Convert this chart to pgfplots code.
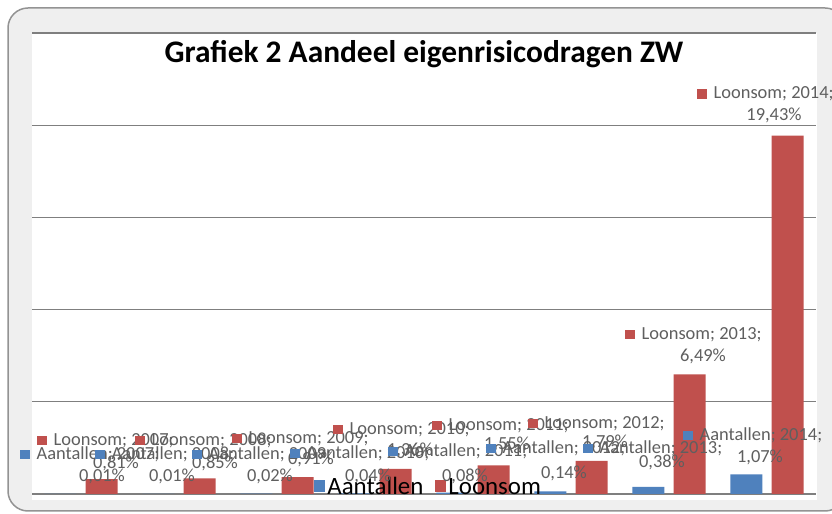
\documentclass[border=0pt]{standalone}
\usepackage{fontspec}
\setmainfont{Carlito}
\usepackage{pgfplots}
\pgfplotsset{compat=1.18}
\definecolor{xblue}{HTML}{4F81BD}
\definecolor{xred}{HTML}{C0504D}
\definecolor{lblgray}{HTML}{5F5F5F}
\definecolor{bggray}{HTML}{EFEFEF}
\definecolor{gridgray}{HTML}{7F7F7F}
\newcommand{\lblfont}{\fontsize{18.5}{22}\selectfont}
\newcommand{\lone}[4]{\node[anchor=base west,inner sep=0pt,text=lblgray,font=\lblfont] at ({#1*1bp},{(514-#2)*1bp}) {\textcolor{#3}{\rule{9.5bp}{9.5bp}}\hspace{7bp}#4};}
\newcommand{\ltwo}[3]{\node[anchor=base,inner sep=0pt,text=lblgray,font=\lblfont] at ({#1*1bp},{(514-#2)*1bp}) {#3};}
\begin{document}
\begin{tikzpicture}
\useasboundingbox (0,0) rectangle (832bp,514bp);
\clip (0,0) rectangle (832bp,514bp);
\fill[white] (0,0) rectangle (832bp,514bp);
\draw[draw=gray!85, line width=1.5bp, fill=bggray, rounded corners=20bp] (8bp,3bp) rectangle (845bp,506bp);
\fill[white] (32bp,14bp) rectangle (817bp,481bp);
\node[font=\fontsize{31.5}{36}\selectfont\bfseries, anchor=base, inner sep=0pt] at (424bp,{(514-63)*1bp}) {Grafiek 2 Aandeel eigenrisicodragen ZW};
\begin{axis}[
  at={(32bp,20bp)}, anchor=south west,
  scale only axis, width=784bp, height=461bp,
  xmin=-0.5, xmax=7.5, ymin=0, ymax=25,
  ybar, bar width=0.327,
  xtick=\empty, ytick={0,5,10,15,20,25}, yticklabels={},
  major tick length=0pt,
  ymajorgrids, grid style={draw=gridgray, line width=1.3bp},
  axis line style={draw=none},
  legend style={at={(0.506,0.015)}, anchor=center, draw=none, fill=none,
    legend columns=2, font=\fontsize{25}{29}\selectfont,
    /tikz/every even column/.append style={column sep=10bp}},
  legend image code/.code={\fill[#1] (0bp,-5bp) rectangle (11bp,7bp);},
]
\addplot[fill=xblue, draw=none, bar shift=-0.21] coordinates {(0,0.01) (1,0.01) (2,0.02) (3,0.04) (4,0.08) (5,0.14) (6,0.38) (7,1.07)};
\addplot[fill=xred, draw=none, bar shift=0.21] coordinates {(0,0.81) (1,0.85) (2,0.91) (3,1.36) (4,1.55) (5,1.79) (6,6.49) (7,19.43)};
\legend{Aantallen, Loonsom}
\end{axis}
% data labels Loonsom
\lone{37}{445}{xred}{Loonsom; 2007;}
\ltwo{116}{468}{0,81\%}
\lone{135}{445}{xred}{Loonsom; 2008;}
\ltwo{215}{468}{0,85\%}
\lone{232}{443}{xred}{Loonsom; 2009;}
\ltwo{311}{464}{0,91\%}
\lone{333}{434}{xred}{Loonsom; 2010;}
\ltwo{410}{455}{1,36\%}
\lone{432}{430}{xred}{Loonsom; 2011;}
\ltwo{507}{449}{1,55\%}
\lone{528}{428}{xred}{Loonsom; 2012;}
\ltwo{605}{447}{1,79\%}
\lone{625}{339}{xred}{Loonsom; 2013;}
\ltwo{703}{361}{6,49\%}
\lone{697}{99}{xred}{Loonsom; 2014;}
\ltwo{774}{121}{19,43\%}
% data labels Aantallen
\lone{20}{459}{xblue}{Aantallen; 2007;}
\ltwo{102}{481}{0,01\%}
\lone{95}{459}{xblue}{Aantallen; 2008;}
\ltwo{172}{481}{0,01\%}
\lone{192}{459}{xblue}{Aantallen; 2009;}
\ltwo{270}{481}{0,02\%}
\lone{290}{458}{xblue}{Aantallen; 2010;}
\ltwo{368}{481}{0,04\%}
\lone{388}{456}{xblue}{Aantallen; 2011;}
\ltwo{465}{481}{0,08\%}
\lone{486}{453}{xblue}{Aantallen; 2012;}
\ltwo{564}{478}{0,14\%}
\lone{583}{453}{xblue}{Aantallen; 2013;}
\ltwo{662}{467}{0,38\%}
\lone{683}{440}{xblue}{Aantallen; 2014;}
\ltwo{760}{462}{1,07\%}
\end{tikzpicture}
\end{document}
